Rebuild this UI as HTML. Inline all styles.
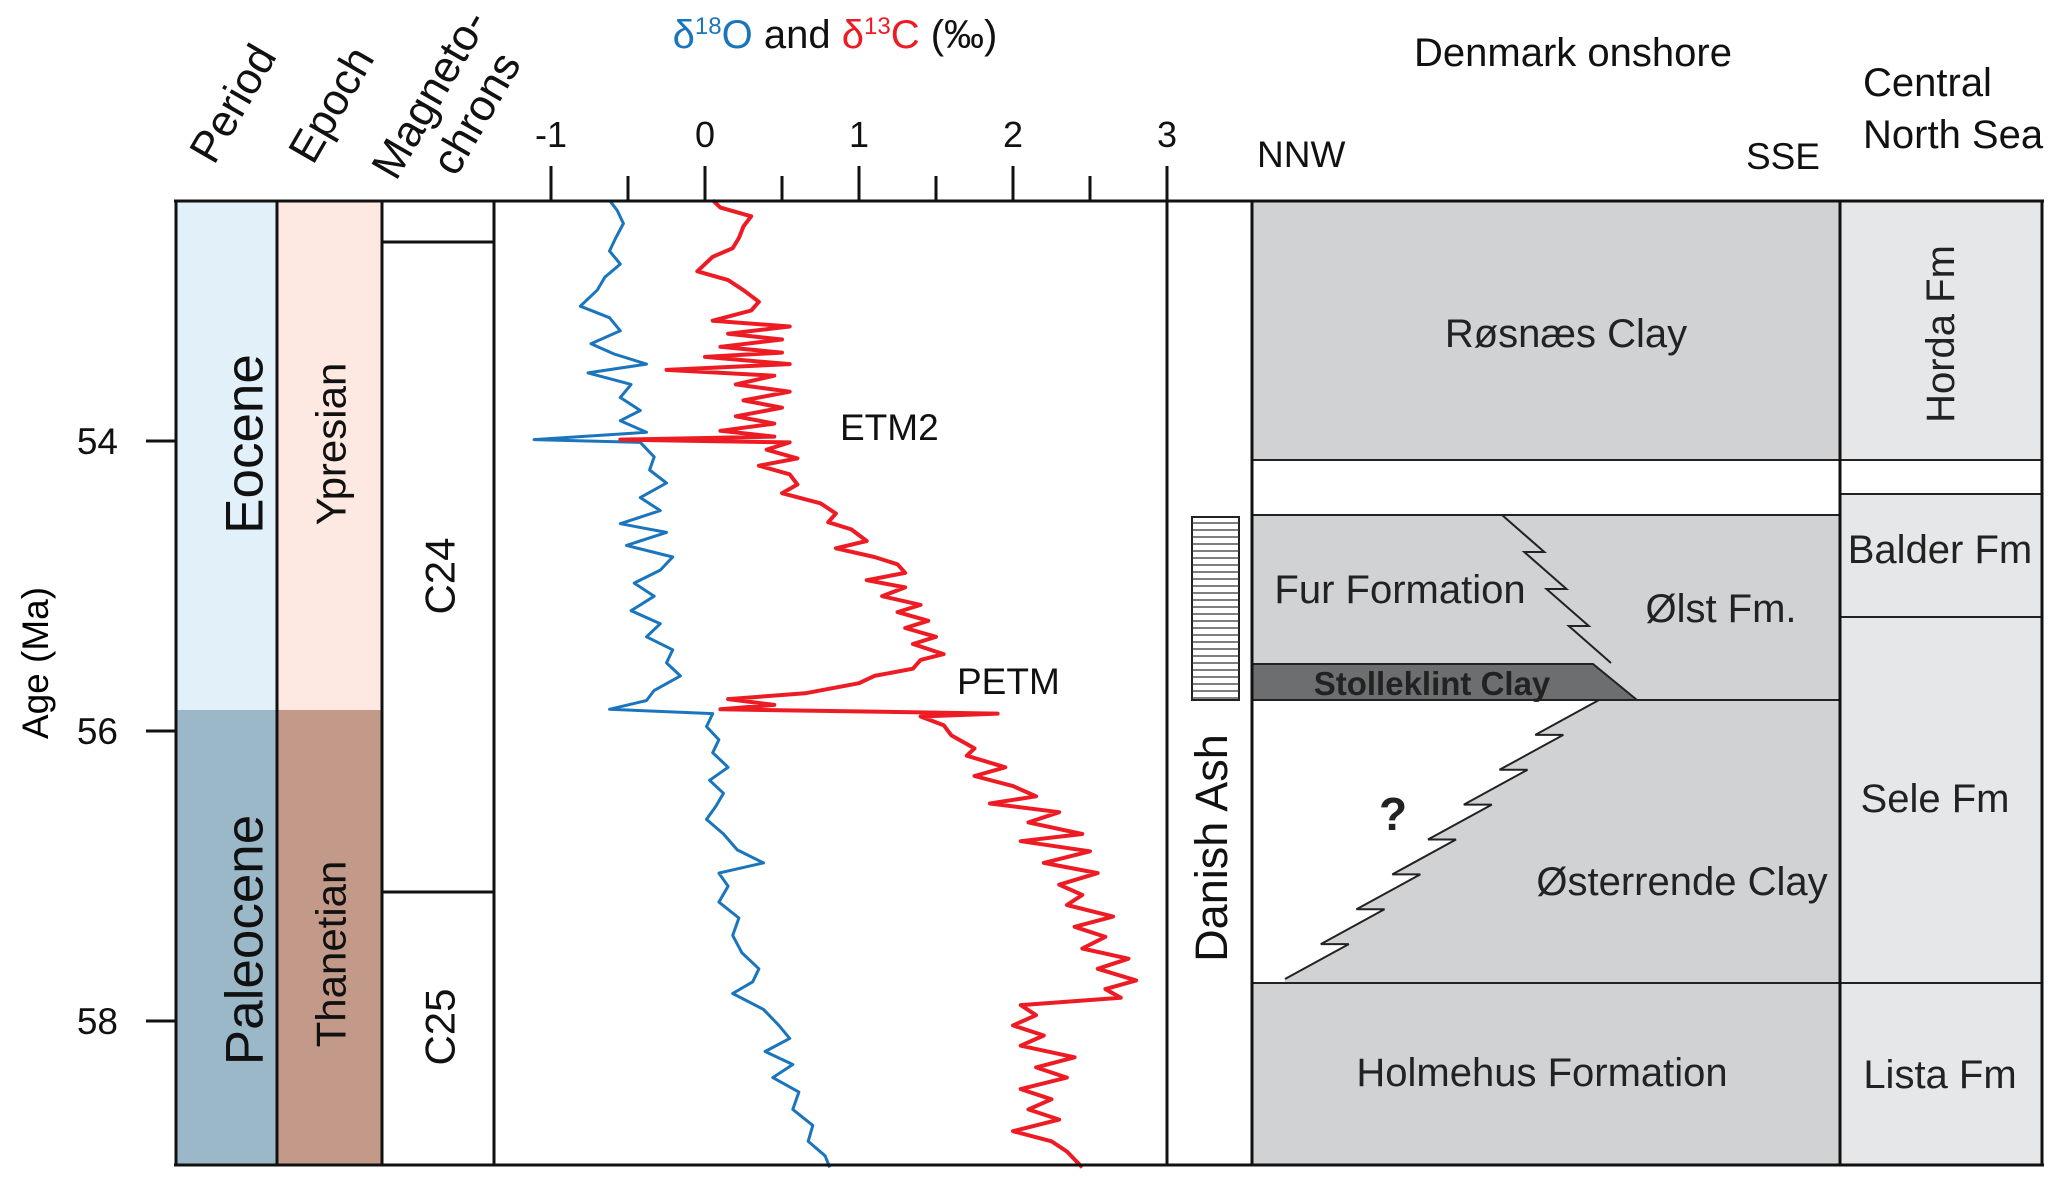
<!DOCTYPE html>
<html><head><meta charset="utf-8">
<style>
html,body{margin:0;padding:0;background:#fff;}
svg{display:block;font-family:"Liberation Sans",Arial,sans-serif;}
</style></head>
<body>
<svg id="chart" width="2067" height="1180" viewBox="0 0 2067 1180" xmlns="http://www.w3.org/2000/svg">
  <rect x="176" y="201" width="101" height="509" fill="#e2f0fa"/>
  <rect x="176" y="710" width="101" height="455" fill="#9bb8c8"/>
  <rect x="277" y="201" width="105" height="509" fill="#fde9e2"/>
  <rect x="277" y="710" width="105" height="455" fill="#c39a8a"/>

  <g>
    <rect x="1252" y="201" width="588" height="259" fill="#d1d2d4"/>
    <rect x="1252" y="515" width="588" height="185" fill="#d1d2d4"/>
    <polygon points="1252,664 1593,664 1637,700 1252,700" fill="#6d6e70" stroke="#222" stroke-width="2"/>
    <path id="lowerFill" fill="#d1d2d4"/>
    <rect x="1252" y="983" width="588" height="182" fill="#d1d2d4"/>
    <path id="zigUpper" fill="none" stroke="#222" stroke-width="2"/>
    <path id="zigLower" fill="none" stroke="#222" stroke-width="2"/>
    <line x1="1252" y1="460" x2="1840" y2="460" stroke="#222" stroke-width="2"/>
    <line x1="1252" y1="515" x2="1840" y2="515" stroke="#222" stroke-width="2"/>
    <line x1="1252" y1="700" x2="1840" y2="700" stroke="#222" stroke-width="2"/>
    <line x1="1252" y1="983" x2="1840" y2="983" stroke="#222" stroke-width="2"/>
  </g>

  <g>
    <rect x="1840" y="201" width="202" height="259" fill="#e6e7e8"/>
    <rect x="1840" y="494" width="202" height="123" fill="#e6e7e8"/>
    <rect x="1840" y="617" width="202" height="366" fill="#e6e7e8"/>
    <rect x="1840" y="983" width="202" height="182" fill="#e6e7e8"/>
    <line x1="1840" y1="460" x2="2042" y2="460" stroke="#222" stroke-width="2"/>
    <line x1="1840" y1="494" x2="2042" y2="494" stroke="#222" stroke-width="2"/>
    <line x1="1840" y1="617" x2="2042" y2="617" stroke="#222" stroke-width="2"/>
    <line x1="1840" y1="983" x2="2042" y2="983" stroke="#222" stroke-width="2"/>
  </g>

  <g id="ashBox"></g>

  <line x1="382" y1="242" x2="494" y2="242" stroke="#111" stroke-width="3"/>
  <line x1="382" y1="892" x2="494" y2="892" stroke="#111" stroke-width="3"/>

  <g id="series"></g>

  <g stroke="#111" stroke-width="3" fill="none">
    <line x1="174" y1="201" x2="2044" y2="201"/>
    <line x1="174" y1="1165" x2="2044" y2="1165"/>
    <line x1="176" y1="201" x2="176" y2="1165"/>
    <line x1="277" y1="201" x2="277" y2="1165"/>
    <line x1="382" y1="201" x2="382" y2="1165"/>
    <line x1="494" y1="201" x2="494" y2="1165"/>
    <line x1="1167" y1="201" x2="1167" y2="1165"/>
    <line x1="1252" y1="201" x2="1252" y2="1165"/>
    <line x1="1840" y1="201" x2="1840" y2="1165"/>
    <line x1="2042" y1="201" x2="2042" y2="1165"/>
  </g>

  <g id="axes"></g>

  <g font-size="44" fill="#111">
    <text transform="translate(214,166) rotate(-60)">Period</text>
    <text transform="translate(313,166) rotate(-60)">Epoch</text>
    <text transform="translate(396,182) rotate(-60)">Magneto-</text>
    <text transform="translate(456,178) rotate(-60)">chrons</text>
  </g>
  <text x="835" y="48" font-size="40" text-anchor="middle"><tspan fill="#1a75bc">δ<tspan font-size="24" dy="-14">18</tspan><tspan dy="14">O</tspan></tspan><tspan fill="#111"> and </tspan><tspan fill="#ed1c24">δ<tspan font-size="24" dy="-14">13</tspan><tspan dy="14">C</tspan></tspan><tspan fill="#111"> (‰)</tspan></text>
  <text transform="translate(48,663) rotate(-90)" font-size="37" text-anchor="middle">Age (Ma)</text>

  <g font-size="53" text-anchor="middle" fill="#111">
    <text transform="translate(244,444) rotate(-90)" dy="0.35em">Eocene</text>
    <text transform="translate(244,940) rotate(-90)" dy="0.35em">Paleocene</text>
  </g>
  <g font-size="42" text-anchor="middle" fill="#111">
    <text transform="translate(331,444) rotate(-90)" dy="0.35em">Ypresian</text>
    <text transform="translate(331,954) rotate(-90)" dy="0.35em">Thanetian</text>
    <text transform="translate(440,576) rotate(-90)" dy="0.35em">C24</text>
    <text transform="translate(440,1027) rotate(-90)" dy="0.35em">C25</text>
    <text transform="translate(1211,848) rotate(-90)" dy="0.35em" font-size="45">Danish Ash</text>
  </g>
  <g font-size="37" fill="#111">
    <text x="840" y="440">ETM2</text>
    <text x="957" y="694">PETM</text>
  </g>
  <g font-size="40" fill="#111">
    <text x="1573" y="66" text-anchor="middle">Denmark onshore</text>
    <text x="1257" y="167" font-size="37">NNW</text>
    <text x="1820" y="169" font-size="37" text-anchor="end">SSE</text>
    <text x="1863" y="96">Central</text>
    <text x="1863" y="148">North Sea</text>
  </g>
  <g font-size="40" fill="#222" text-anchor="middle">
    <text x="1566" y="347">Røsnæs Clay</text>
    <text x="1400" y="603">Fur Formation</text>
    <text x="1721" y="622">Ølst Fm.</text>
    <text x="1432" y="695" font-size="33" font-weight="bold">Stolleklint Clay</text>
    <text x="1393" y="830" font-size="46" font-weight="bold">?</text>
    <text x="1682" y="895">Østerrende Clay</text>
    <text x="1542" y="1086">Holmehus Formation</text>
    <text transform="translate(1940,334) rotate(-90)" dy="0.35em">Horda Fm</text>
    <text x="1940" y="563">Balder Fm</text>
    <text x="1935" y="812">Sele Fm</text>
    <text x="1940" y="1088">Lista Fm</text>
  </g>
</svg>
<script>
const blueAges=[52.34,52.41,52.50,52.60,52.69,52.78,52.87,52.96,53.07,53.15,53.24,53.33,53.40,53.47,53.53,53.61,53.70,53.79,53.86,53.94,53.99,54.01,54.11,54.20,54.29,54.39,54.48,54.57,54.63,54.72,54.80,54.89,54.98,55.07,55.17,55.26,55.35,55.44,55.53,55.62,55.72,55.79,55.85,55.88,55.97,56.06,56.15,56.25,56.34,56.43,56.52,56.61,56.71,56.82,56.91,56.98,57.07,57.18,57.29,57.41,57.53,57.64,57.73,57.81,57.92,58.03,58.12,58.21,58.30,58.39,58.49,58.61,58.72,58.83,58.93,59.01];
const d18O=[-0.62,-0.57,-0.53,-0.58,-0.62,-0.55,-0.65,-0.70,-0.81,-0.62,-0.55,-0.74,-0.59,-0.38,-0.76,-0.48,-0.55,-0.42,-0.55,-0.38,-1.11,-0.42,-0.33,-0.36,-0.25,-0.42,-0.29,-0.55,-0.25,-0.51,-0.21,-0.29,-0.46,-0.33,-0.48,-0.29,-0.38,-0.21,-0.25,-0.16,-0.33,-0.38,-0.62,0.05,0.01,0.09,0.05,0.15,0.03,0.12,0.07,0.01,0.12,0.21,0.38,0.09,0.15,0.09,0.22,0.18,0.24,0.35,0.31,0.18,0.38,0.48,0.55,0.39,0.57,0.44,0.61,0.57,0.70,0.67,0.78,0.81];
const redAges=[52.34,52.39,52.45,52.52,52.60,52.67,52.73,52.83,52.89,52.96,53.04,53.10,53.17,53.21,53.26,53.30,53.35,53.39,53.42,53.47,53.51,53.55,53.61,53.66,53.72,53.77,53.83,53.88,53.93,53.97,53.99,54.01,54.06,54.12,54.17,54.23,54.30,54.36,54.43,54.50,54.56,54.61,54.69,54.74,54.80,54.85,54.91,54.96,55.01,55.07,55.13,55.18,55.24,55.29,55.35,55.40,55.47,55.51,55.57,55.62,55.67,55.74,55.78,55.82,55.85,55.88,55.90,55.96,56.03,56.12,56.17,56.25,56.31,56.38,56.45,56.50,56.56,56.63,56.71,56.76,56.83,56.91,56.98,57.06,57.13,57.20,57.28,57.35,57.42,57.50,57.57,57.64,57.72,57.78,57.84,57.89,57.96,58.03,58.10,58.17,58.25,58.32,58.39,58.47,58.54,58.61,58.68,58.76,58.83,58.90,59.01];
const d13C=[0.05,0.10,0.30,0.25,0.22,0.18,0.05,-0.05,0.15,0.25,0.35,0.30,0.05,0.55,0.15,0.50,0.10,0.50,0.00,0.55,-0.25,0.45,0.20,0.55,0.25,0.50,0.20,0.45,0.10,0.45,-0.55,0.55,0.40,0.60,0.35,0.55,0.60,0.50,0.75,0.85,0.80,0.95,1.05,0.85,1.10,1.25,1.30,1.05,1.30,1.15,1.40,1.25,1.45,1.30,1.50,1.35,1.55,1.40,1.35,1.10,1.00,0.65,0.15,0.45,0.10,1.90,1.40,1.55,1.60,1.75,1.70,1.95,1.75,2.00,2.15,1.85,2.30,2.10,2.45,2.05,2.50,2.20,2.55,2.30,2.45,2.35,2.65,2.40,2.60,2.45,2.75,2.55,2.80,2.60,2.70,2.05,2.15,2.00,2.20,2.05,2.40,2.15,2.35,2.05,2.25,2.10,2.30,2.00,2.25,2.35,2.45];
const xTicks=[-1,-0.5,0,0.5,1,1.5,2,2.5,3];
const xTickLabels=["-1","0","1","2","3"];
const ageTicks=[54,56,58];

const NS='http://www.w3.org/2000/svg';
function xScale(v){return 705+v*154;}
function yScale(a){return 441+(a-54)*145;}
function mk(tag,attrs,parent){const e=document.createElementNS(NS,tag);for(const k in attrs)e.setAttribute(k,attrs[k]);parent.appendChild(e);return e;}

const series=document.getElementById('series');
function linePath(ages,vals){let d='';for(let i=0;i<ages.length;i++){const x=xScale(vals[i]).toFixed(1),y=yScale(ages[i]).toFixed(1);d+=(i?'L':'M')+x+','+y;}return d;}
const blue=mk('path',{d:linePath(blueAges,d18O),fill:'none',stroke:'#1a75bc','stroke-width':3,'stroke-linejoin':'round'},series);


const red=mk('path',{d:linePath(redAges,d13C),fill:'none',stroke:'#ed1c24','stroke-width':4,'stroke-linejoin':'round'},series);



const axes=document.getElementById('axes');
xTicks.forEach(t=>{
  const major=Number.isInteger(t);
  const tk=mk('line',{x1:xScale(t),x2:xScale(t),y1:major?166:176,y2:201,stroke:'#111','stroke-width':3},axes);
  
  
});
xTickLabels.forEach(l=>{
  const tx=mk('text',{x:xScale(+l),y:147,'font-size':36,'text-anchor':'middle',fill:'#111'},axes);
  tx.textContent=l;
  
  
});
ageTicks.forEach(a=>{
  const tk=mk('line',{x1:146,x2:176,y1:yScale(a),y2:yScale(a),stroke:'#111','stroke-width':3},axes);
  
  
  const tx=mk('text',{x:118,y:yScale(a)+13,'font-size':37,'text-anchor':'end',fill:'#111'},axes);
  tx.textContent=a;
  
  
});

const ash=document.getElementById('ashBox');
mk('rect',{x:1192,y:517,width:47,height:183,fill:'#fff',stroke:'#222','stroke-width':2},ash);
for(let y=523;y<700;y+=7){mk('line',{x1:1192,x2:1239,y1:y,y2:y,stroke:'#333','stroke-width':1.3},ash);}

function zig(x1,y1,x2,y2,n,jog){
  let d='M'+x1+','+y1;const pts=[[x1,y1]];
  let cx=x1,cy=y1;
  const dx=(x2-x1-jog*(n-1))/n,dy=(y2-y1)/n;
  for(let i=0;i<n;i++){cx+=dx;cy+=dy;d+='L'+cx.toFixed(1)+','+cy.toFixed(1);pts.push([cx,cy]);
    if(i<n-1){cx+=jog;d+='L'+cx.toFixed(1)+','+cy.toFixed(1);pts.push([cx,cy]);}}
  return {d,pts};
}
const up=zig(1502,515,1611,663,4,-20);
document.getElementById('zigUpper').setAttribute('d',up.d);
const low=zig(1599,700,1285,979,8,28);
document.getElementById('zigLower').setAttribute('d',low.d);
let fd='M'+low.pts.map(p=>p[0].toFixed(1)+','+p[1].toFixed(1)).join('L')+'L1285,983L1840,983L1840,700Z';
document.getElementById('lowerFill').setAttribute('d',fd);
</script>
</body></html>
